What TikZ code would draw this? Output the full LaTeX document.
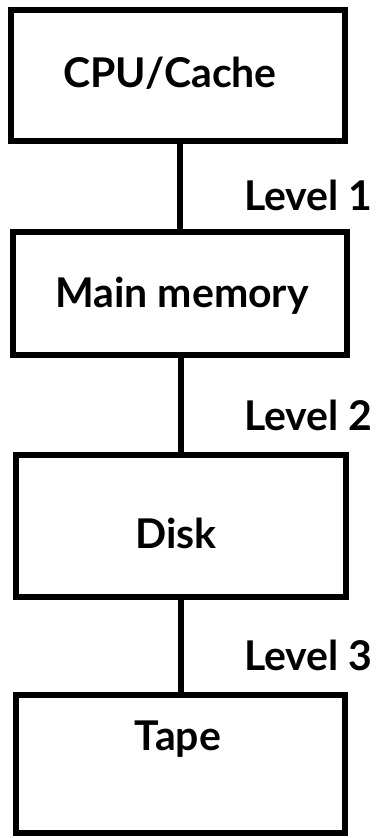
\documentclass[tikz,border=0pt]{standalone}
\usepackage{fontspec}
\newfontfamily\lblfont{Lato}
\begin{document}
\begin{tikzpicture}[x=1pt, y=-1pt,
  box/.style={draw=black, line width=6pt, fill=white, inner sep=0pt},
  lbl/.style={font=\lblfont\bfseries\fontsize{41}{43}\selectfont, inner sep=0pt, anchor=base},
  lvl/.style={font=\lblfont\bfseries\fontsize{41}{43}\selectfont, inner sep=0pt, anchor=base west},
  link/.style={line width=6pt}]
  \useasboundingbox[fill=white] (0,0) rectangle (382,838);

  % storage hierarchy boxes
  \node[box, minimum width=334pt, minimum height=131pt] (cpu)  at (178,75.5) {};
  \node[box, minimum width=334pt, minimum height=123pt] (mem)  at (180,293.5) {};
  \node[box, minimum width=330pt, minimum height=142pt] (disk) at (181,526) {};
  \node[box, minimum width=329pt, minimum height=138pt] (tape) at (180.5,764) {};

  % connectors between levels
  \draw[link] (mem.north)  -- (mem.north  |- cpu.south);
  \draw[link] (disk.north) -- (disk.north |- mem.south);
  \draw[link] (tape.north) -- (tape.north |- disk.south);

  % box texts
  \node[lbl] (tcpu)  at (170,87)  {CPU/Cache};
  \node[lbl] (tmem)  at (182,307) {Main memory};
  \node[lbl] (tdisk) at (176,548) {Disk};
  \node[lbl] (ttape) at (178,750) {Tape};

  % level labels
  \node[lvl] (l1) at (244,210) {Level 1};
  \node[lvl] (l2) at (244,430) {Level 2};
  \node[lvl] (l3) at (244,670) {Level 3};
\end{tikzpicture}
\end{document}
